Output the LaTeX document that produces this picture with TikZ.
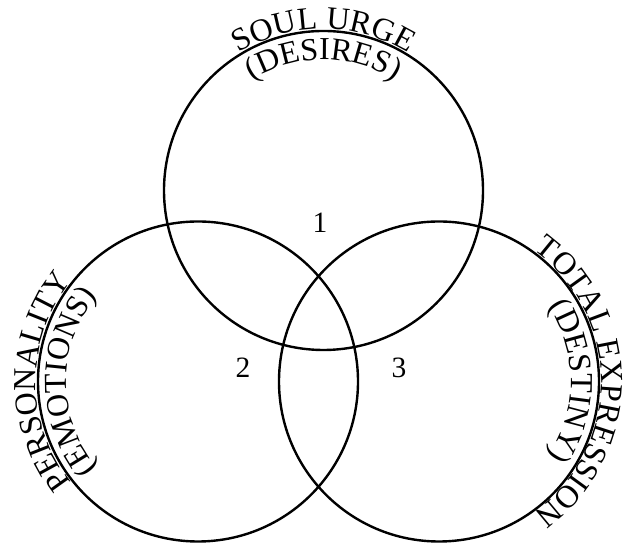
\documentclass[tikz,border=0pt]{standalone}
\usepackage{fontspec}
\setmainfont{Liberation Serif}
\usetikzlibrary{decorations.text,calc}
\tikzset{
  ring/.style={line width=2.4pt},
  arctext/.style={decorate, decoration={text along path, text align=center,
      text={|\fontsize{32}{38}\selectfont|#1}}},
  num/.style={font=\fontsize{29.5}{32}\selectfont, inner sep=0pt},
}
\begin{document}
\begin{tikzpicture}[x=1pt,y=1pt]
\useasboundingbox (0,0) rectangle (626,545);
\coordinate (cT) at (323.5,354.5);
\coordinate (cL) at (198,163.5);
\coordinate (cR) at (439,163.5);
\draw[ring] (cT) circle[radius=159.5];
\draw[ring] (cL) circle[radius=160];
\draw[ring] (cR) circle[radius=160];
% top
\path[arctext={SOUL URGE}] ($(cT)+(150:161.5)$) arc[start angle=150,end angle=30,radius=161.5];
\path[arctext={(DESIRES)}] ($(cT)+(150:131)$) arc[start angle=150,end angle=30,radius=131];
% left
\path[arctext={PERSONALITY}] ($(cL)+(240:162)$) arc[start angle=240,end angle=120,radius=162];
\path[arctext={(EMOTIONS)}] ($(cL)+(240:132)$) arc[start angle=240,end angle=120,radius=132];
% right
\path[arctext={TOTAL EXPRESSION}] ($(cR)+(75:162)$) arc[start angle=75,end angle=-75,radius=162];
\path[arctext={(DESTINY)}] ($(cR)+(60:132)$) arc[start angle=60,end angle=-60,radius=132];
% numbers
\node[num] (n1) at (320,322) {1};
\node[num] (n2) at (243,177) {2};
\node[num] (n3) at (399,177) {3};
\end{tikzpicture}
\end{document}
